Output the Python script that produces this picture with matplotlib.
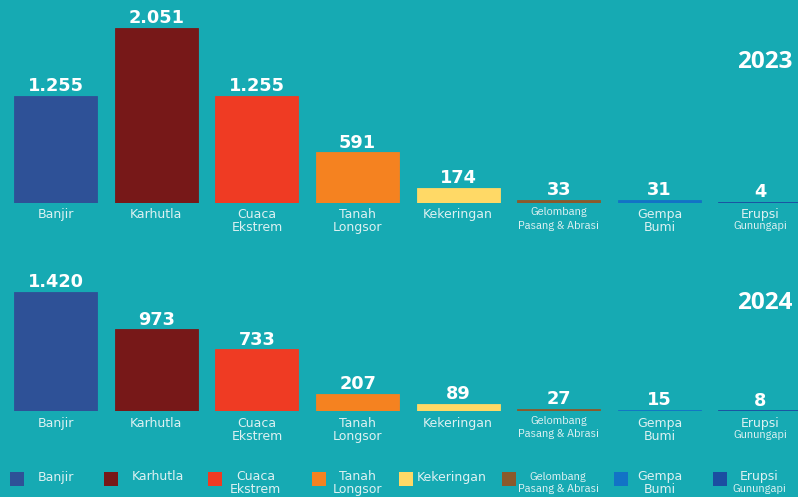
import matplotlib
matplotlib.use("Agg")
import matplotlib.pyplot as plt
from matplotlib.patches import Rectangle

# ---- data ----
categories = ["Banjir", "Karhutla", "Cuaca\nEkstrem", "Tanah\nLongsor", "Kekeringan",
              "Gelombang\nPasang & Abrasi", "Gempa\nBumi", "Erupsi\nGunungapi"]
values_2023 = [1255, 2051, 1255, 591, 174, 33, 31, 4]
values_2024 = [1420, 973, 733, 207, 89, 27, 15, 8]
value_labels_2023 = ["1.255", "2.051", "1.255", "591", "174", "33", "31", "4"]
value_labels_2024 = ["1.420", "973", "733", "207", "89", "27", "15", "8"]
years = ["2023", "2024"]
colors = ["#2E5197", "#771818", "#EF3B23", "#F58220", "#FFD966", "#8B5A2B", "#1273C6", "#1B4EA1"]

BG = "#16AAB3"
LABEL_C = "#DDF1F2"
W, H = 798, 497

fig = plt.figure(figsize=(W / 100, H / 100), dpi=100, facecolor=BG)

main_font = ["DejaVu Sans"]
narrow_kw = dict(family=["IBM Plex Sans Condensed", "Open Sans", "DejaVu Sans"], fontsize=8.8)
CAT_FS = 9.0
VAL_FS = 12.8


def panel(base_px, top_px, scale, vals, vlabels, year, year_y):
    ax = fig.add_axes([0, (H - base_px) / H, 1, (base_px - top_px) / H])
    ax.set_facecolor("none")
    ax.set_xlim(-0.5547, 7.378)
    ax.set_ylim(0, (base_px - top_px) / scale)
    ax.axis("off")
    x = list(range(len(vals)))
    ax.bar(x, vals, width=0.825, color=colors, edgecolor=colors, linewidth=0.6)
    for i, (v, lab) in enumerate(zip(vals, vlabels)):
        ax.annotate(lab, (i, v), xytext=(0, 0.5), textcoords="offset points",
                    ha="center", va="bottom", color="white", fontsize=VAL_FS,
                    fontweight="bold", family=main_font, clip_on=False)
        cat = categories[i]
        if i == 5:
            l1, l2 = cat.split("\n")
            ax.annotate(l1, (i, 0), xytext=(0, -3.5), textcoords="offset points",
                        ha="center", va="top", color=LABEL_C, **narrow_kw)
            ax.annotate(l2, (i, 0), xytext=(0, -13), textcoords="offset points",
                        ha="center", va="top", color=LABEL_C, **narrow_kw)
        elif i == 7:
            l1, l2 = cat.split("\n")
            ax.annotate(l1, (i, 0), xytext=(0, -4), textcoords="offset points",
                        ha="center", va="top", color=LABEL_C, fontsize=CAT_FS,
                        family=main_font)
            ax.annotate(l2, (i, 0), xytext=(0, -13.5), textcoords="offset points",
                        ha="center", va="top", color=LABEL_C, **narrow_kw)
        else:
            ax.annotate(cat, (i, 0), xytext=(0, -4), textcoords="offset points",
                        ha="center", va="top", color=LABEL_C, fontsize=CAT_FS,
                        family=main_font, linespacing=1.0)
    fig.text(792 / W, 1 - year_y / H, year, ha="right", va="center", color="white",
             fontsize=17.5, fontweight="bold", family=["Open Sans", "DejaVu Sans"])
    return ax


panel(202.5, 0, 0.085, values_2023, value_labels_2023, years[0], 62)
panel(411, 250, 0.084, values_2024, value_labels_2024, years[1], 303)

# ---- legend ----
sq_x = [10, 104.3, 207.7, 311.7, 398.7, 502, 614, 712.7]
txt_x = [55.5, 157.5, 255.5, 357, 452, 558, 659.5, 759.5]
sq_top, sq_size = 471.5, 14
for i, cat in enumerate(categories):
    fig.add_artist(Rectangle((sq_x[i] / W, 1 - (sq_top + sq_size) / H), sq_size / W, sq_size / H,
                             transform=fig.transFigure, facecolor=colors[i], edgecolor="none"))
    lines = cat.split("\n")
    if len(lines) == 1:
        fig.text(txt_x[i] / W, 1 - 477 / H, lines[0], ha="center", va="center",
                 color=LABEL_C, fontsize=CAT_FS, family=main_font)
    else:
        kw1 = narrow_kw if i == 5 else dict(fontsize=CAT_FS, family=main_font)
        kw2 = narrow_kw if i in (5, 7) else dict(fontsize=CAT_FS, family=main_font)
        fig.text(txt_x[i] / W, 1 - 476.5 / H, lines[0], ha="center", va="center",
                 color=LABEL_C, **kw1)
        fig.text(txt_x[i] / W, 1 - 489.5 / H, lines[1], ha="center", va="center",
                 color=LABEL_C, **kw2)

fig.savefig("out.png", dpi=100, facecolor=BG)
